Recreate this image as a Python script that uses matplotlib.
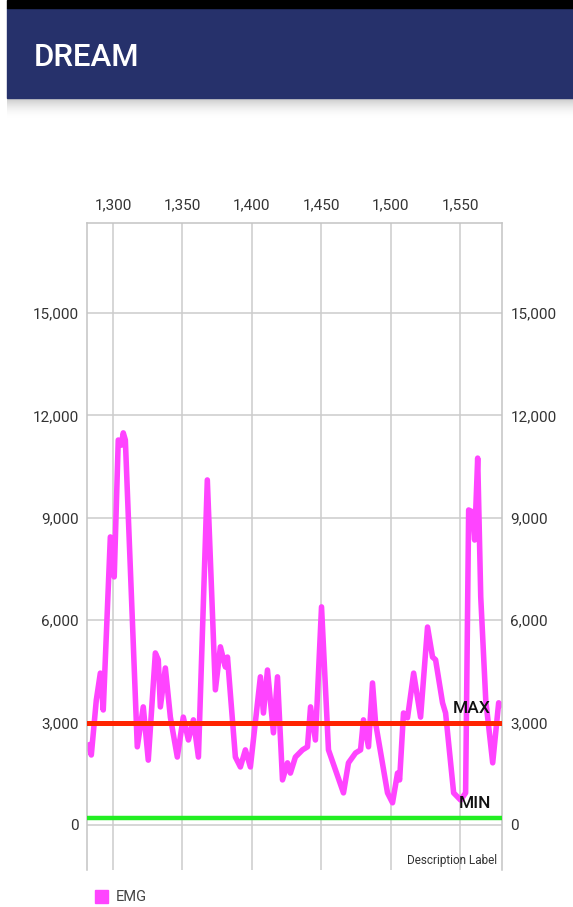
import numpy as np
import matplotlib
matplotlib.use("Agg")
import matplotlib.pyplot as plt
from matplotlib.patches import Rectangle
from matplotlib.ticker import FuncFormatter

plt.rcParams['font.family'] = ['Roboto', 'DejaVu Sans']

W, H = 573, 907

# EMG samples (sample index, amplitude)
sample_idx = [1282.2, 1284.4, 1288.0, 1290.9, 1293.0, 1298.1, 1299.5, 1300.9,
              1303.8, 1306.0, 1307.4, 1308.9, 1317.5, 1321.8, 1325.4, 1330.5,
              1332.6, 1334.1, 1337.7, 1341.3, 1346.3, 1350.6, 1354.3, 1357.9,
              1361.5, 1367.9, 1373.7, 1377.3, 1380.9, 1382.4, 1388.1, 1391.7,
              1395.3, 1398.9, 1406.1, 1408.3, 1411.2, 1415.5, 1418.4, 1422.0,
              1425.6, 1427.7, 1431.3, 1436.4, 1440.0, 1442.2, 1445.7, 1450.1,
              1455.1, 1465.9, 1469.5, 1474.6, 1478.2, 1480.3, 1483.9, 1486.8,
              1489.0, 1497.6, 1501.2, 1504.8, 1506.3, 1509.1, 1512.0, 1516.4,
              1521.4, 1526.4, 1530.0, 1532.2, 1537.2, 1539.4, 1545.2, 1550.2,
              1553.8, 1556.0, 1558.9, 1560.3, 1562.5, 1564.7, 1568.3, 1573.3,
              1577.6, 1579.0]
emg_values = [2340, 2050, 3660, 4450, 3370, 8440, 8350, 7270,
              11280, 11130, 11490, 11280, 2290, 3460, 1900, 5040,
              4840, 3460, 4600, 3160, 1990, 3160, 2490, 3080,
              1990, 10110, 3960, 5220, 4630, 4920, 1990, 1700,
              2200, 1700, 4340, 3280, 4540, 2700, 4340, 1320,
              1820, 1520, 1990, 2200, 2290, 3460, 2490, 6390,
              2200, 940, 1820, 2110, 2200, 3080, 2290, 4160,
              2990, 940, 650, 1520, 1320, 3280, 3140, 4450,
              3160, 5800, 4920, 4840, 3580, 3280, 940, 730,
              940, 9230, 9170, 8350, 10750, 6680, 3660, 1820,
              3580, 3520]

max_limit = 3000
min_limit = 200
x_ticks = [1300, 1350, 1400, 1450, 1500, 1550]
y_ticks = [0, 3000, 6000, 9000, 12000, 15000]


def fx(px):
    return px / W


def fy(py):
    return 1 - py / H


fig = plt.figure(figsize=(W / 100, H / 100), dpi=100)

# app bar
fig.patches.append(Rectangle((fx(7), fy(98)), 1 - fx(7), fy(8) - fy(98),
                             transform=fig.transFigure, color='#26316b', zorder=0))
fig.patches.append(Rectangle((fx(7), fy(8)), 1 - fx(7), 1 - fy(8),
                             transform=fig.transFigure, color='black', zorder=0))
shadow = fig.add_axes([fx(7), fy(120), 1 - fx(7), fy(98) - fy(120)])
t = np.linspace(0, 1, 60)[:, None]
shadow.imshow(1 - 0.22 * (1 - t) ** 2, cmap='gray', vmin=0, vmax=1, aspect='auto')
shadow.axis('off')
fig.text(fx(34), fy(57), "DREAM", color='white', fontsize=22.5,
         fontweight='medium', va='center', ha='left')

# chart
ax = fig.add_axes([fx(87), fy(870), fx(502) - fx(87), fy(223) - fy(870)])
ax.plot(sample_idx, emg_values, color='#ff44ff', lw=4.0,
        solid_joinstyle='round', zorder=2)
ax.axhline(max_limit, color='#ff2400', lw=3.6, zorder=3)
ax.axhline(min_limit, color='#22ee22', lw=3.2, zorder=3)

ax.text(0.973, 3280, "MAX", transform=ax.get_yaxis_transform(),
        ha='right', va='baseline', fontsize=12.5, fontweight='medium', color='#111111')
ax.text(0.973, 500, "MIN", transform=ax.get_yaxis_transform(),
        ha='right', va='baseline', fontsize=12.5, fontweight='medium', color='#111111')

ax.set_xlim(1281.3, 1580)
ax.set_ylim(-1320, 17640)
ax.set_xticks(x_ticks)
ax.set_yticks(y_ticks)
fmt = FuncFormatter(lambda v, p: f"{int(v):,}")
ax.xaxis.set_major_formatter(fmt)
ax.yaxis.set_major_formatter(fmt)
ax.xaxis.tick_top()
ax.tick_params(axis='x', length=0, pad=8, labelsize=11, labelcolor='#333333')
ax.tick_params(axis='y', length=0, labelsize=11, labelcolor='#333333',
               labelleft=True, labelright=True, pad=6)

ax.set_axisbelow(True)
ax.grid(True, color='#cccccc', lw=1.1)
ax.spines['bottom'].set_visible(False)
for s in ['top', 'left', 'right']:
    ax.spines[s].set_color('#c4c4c4')
    ax.spines[s].set_linewidth(1.1)

ax.text(0.988, 0.004, "Description Label", transform=ax.transAxes,
        ha='right', va='bottom', fontsize=8.5, color='#333333')

# legend
fig.patches.append(Rectangle((fx(95), fy(903)), fx(108) - fx(95), fy(890) - fy(903),
                             transform=fig.transFigure, color='#ff44ff'))
fig.text(fx(116), fy(897), "EMG", va='center', ha='left', fontsize=10.5, color='#444444')

fig.savefig('out.png', dpi=100)
